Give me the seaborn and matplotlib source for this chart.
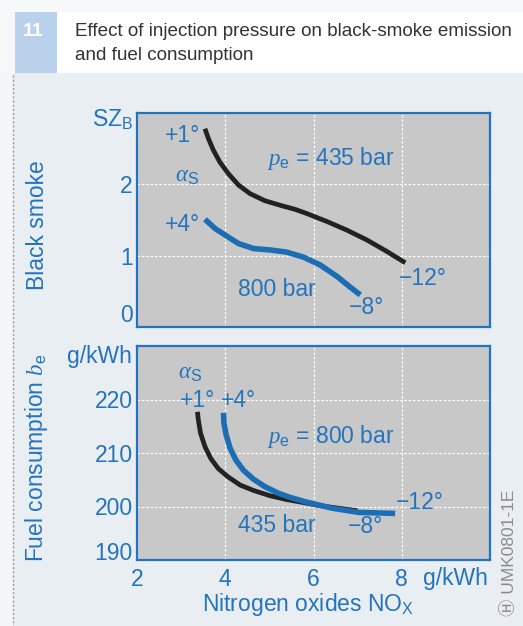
import matplotlib
matplotlib.use("Agg")
import matplotlib.pyplot as plt
import seaborn as sns
import pandas as pd
from matplotlib.patches import Rectangle
from matplotlib.lines import Line2D

# Black smoke vs NOx, injection timing swept from advance to retard
smoke_nox_435 = [3.54, 3.62, 3.73, 3.88, 4.07, 4.30, 4.56, 4.90, 5.28, 5.58, 5.85,
                 6.30, 6.75, 7.21, 7.66, 8.08]
smoke_435 = [2.78, 2.64, 2.48, 2.31, 2.15, 1.99, 1.87, 1.77, 1.70, 1.65, 1.59,
             1.48, 1.36, 1.22, 1.06, 0.90]
smoke_nox_800 = [3.54, 3.77, 4.07, 4.30, 4.64, 5.02, 5.39, 5.77, 6.15, 6.53, 6.83, 7.06]
smoke_800 = [1.51, 1.38, 1.26, 1.17, 1.10, 1.08, 1.05, 0.98, 0.87, 0.71, 0.56, 0.45]

# Fuel consumption vs NOx
fuel_nox_435 = [3.37, 3.39, 3.44, 3.54, 3.67, 3.84, 4.07, 4.34, 4.64, 5.02, 5.39,
                5.80, 6.11, 6.64, 7.00]
fuel_435 = [217.7, 216.2, 213.7, 211.2, 209.0, 207.1, 205.5, 204.0, 203.0, 202.0, 201.3,
            200.7, 200.2, 199.6, 199.2]
fuel_nox_800 = [3.96, 3.97, 4.02, 4.11, 4.24, 4.41, 4.64, 4.90, 5.20, 5.47, 5.81,
                6.41, 7.02, 7.85]
fuel_800 = [217.5, 215.6, 213.4, 210.9, 208.7, 206.8, 205.1, 203.7, 202.5, 201.7, 200.9,
            199.7, 198.9, 198.7]

x_ticks = [2, 4, 6, 8]
smoke_ticks = [0, 1, 2]
fuel_ticks = [190, 200, 210, 220]

BLUE = "#2474bd"
LINE_BLUE = "#1b6db4"
LINE_BLACK = "#222222"
FACE = "#c8c8c8"
BG = "#e9eef3"
FS = 16.5

sns.set_style("white")
plt.rcParams["font.family"] = ["Liberation Sans", "DejaVu Sans", "Noto Sans CJK JP"]
plt.rcParams["mathtext.fontset"] = "custom"
plt.rcParams["mathtext.rm"] = "Liberation Sans"
plt.rcParams["mathtext.it"] = "Liberation Serif:italic"
plt.rcParams["mathtext.sf"] = "Liberation Sans"

W, H = 523, 626
fig = plt.figure(figsize=(W / 100, H / 100), dpi=100, facecolor=BG)


def fbox(x0, y0, x1, y1, **kw):
    fig.patches.append(Rectangle((x0 / W, 1 - y1 / H), (x1 - x0) / W, (y1 - y0) / H,
                                 transform=fig.transFigure, **kw))


def ftext(x, y, s, **kw):
    kw.setdefault("color", BLUE)
    kw.setdefault("fontsize", FS)
    fig.text(x / W, 1 - y / H, s, **kw)


# header band
fbox(0, 0, W, 12, facecolor="#f6f8fa", edgecolor="none")
fbox(0, 12, 15, 73, facecolor="#f6f8fa", edgecolor="none")
fbox(15, 12, 57, 73, facecolor="#b9d1ea", edgecolor="none")
fbox(57, 12, W, 73, facecolor="white", edgecolor="none")
fbox(0, 73, 13, H, facecolor="#f3f5f7", edgecolor="none")
fig.lines.append(Line2D([13 / W, 13 / W], [1 - 75 / H, 0], transform=fig.transFigure,
                        color="#9a9a9a", lw=1, linestyle=(0, (1.5, 1.5))))
ftext(33, 31, "11", color="white", fontsize=14, fontweight="bold", ha="center", va="center")
ftext(75, 32, "Effect of injection pressure on black-smoke emission", color="#333333",
      fontsize=13.6, ha="left", va="center")
ftext(75, 56, "and fuel consumption", color="#333333", fontsize=13.6, ha="left", va="center")

ax1 = fig.add_axes([137 / W, 1 - 327 / H, 353 / W, 214 / H])
ax2 = fig.add_axes([137 / W, 1 - 560 / H, 353 / W, 214 / H])

df_smoke_435 = pd.DataFrame({"nox": smoke_nox_435, "val": smoke_435})
df_smoke_800 = pd.DataFrame({"nox": smoke_nox_800, "val": smoke_800})
df_fuel_435 = pd.DataFrame({"nox": fuel_nox_435, "val": fuel_435})
df_fuel_800 = pd.DataFrame({"nox": fuel_nox_800, "val": fuel_800})

line_kw = dict(sort=False, solid_capstyle="butt", solid_joinstyle="round")
sns.lineplot(data=df_smoke_435, x="nox", y="val", color=LINE_BLACK, lw=3.4, ax=ax1, **line_kw)
sns.lineplot(data=df_smoke_800, x="nox", y="val", color=LINE_BLUE, lw=4.0, ax=ax1, **line_kw)
sns.lineplot(data=df_fuel_435, x="nox", y="val", color=LINE_BLACK, lw=3.4, ax=ax2, **line_kw)
sns.lineplot(data=df_fuel_800, x="nox", y="val", color=LINE_BLUE, lw=4.0, ax=ax2, **line_kw)

for ax in (ax1, ax2):
    ax.set_facecolor(FACE)
    ax.set_xlim(2, 10)
    ax.set_xlabel("")
    ax.set_ylabel("")
    ax.set_axisbelow(True)
    ax.grid(True, color="white", lw=0.9, linestyle=(0, (2, 1.5)))
    for sp in ax.spines.values():
        sp.set_color(BLUE)
        sp.set_linewidth(1.6)
    ax.tick_params(length=0, labelsize=FS, labelcolor=BLUE, pad=3)

ax1.set_ylim(0, 3)
ax1.set_yticks(smoke_ticks)
ax1.set_yticklabels([str(t) for t in smoke_ticks])
ax1.set_xticks(x_ticks)
ax1.set_xticklabels([])

ax2.set_ylim(190, 230)
ax2.set_yticks(fuel_ticks)
ax2.set_yticklabels([str(t) for t in fuel_ticks])
ax2.set_xticks(x_ticks)
ax2.set_xticklabels([str(t) for t in x_ticks])
ax2.tick_params(axis="x", pad=6)

# lowest y labels sit just above the bottom spine
ax1.get_yticklabels()[0].set_va("bottom")
ax2.get_yticklabels()[0].set_va("baseline")

kw = dict(color=BLUE, fontsize=FS, ha="center", va="center")
# upper panel labels
ax1.text(3.02, 2.69, "+1°", **kw)
ax1.text(3.13, 2.13, r"$\alpha_\mathrm{S}$", **kw)
ax1.text(6.4, 2.36, r"$p_\mathrm{e}$ = 435 bar", **kw)
ax1.text(3.02, 1.43, "+4°", **kw)
ax1.text(5.18, 0.52, "800 bar", **kw)
ax1.text(8.47, 0.68, "−12°", **kw)
ax1.text(7.21, 0.27, "−8°", **kw)
# lower panel labels
ax2.text(3.2, 225.1, r"$\alpha_\mathrm{S}$", **kw)
ax2.text(3.36, 219.9, "+1°", **kw)
ax2.text(4.29, 219.9, "+4°", **kw)
ax2.text(6.38, 213.0, r"$p_\mathrm{e}$ = 800 bar", **kw)
ax2.text(8.42, 200.8, "−12°", **kw)
ax2.text(5.17, 196.5, "435 bar", **kw)
ax2.text(7.17, 196.2, "−8°", **kw)

# axis titles and units
ftext(133, 120, r"SZ$_\mathrm{B}$", ha="right", va="center")
ftext(38, 225, "Black smoke", rotation=90, ha="center", va="center")
ftext(37, 458, r"Fuel consumption $b_\mathrm{e}$", rotation=90, ha="center", va="center")
ftext(132, 357, "g/kWh", ha="right", va="center")
ftext(455, 578, "g/kWh", ha="center", va="center")
ftext(308, 605, r"Nitrogen oxides NO$_\mathrm{X}$", ha="center", va="center")
ftext(509, 553, "Ⓗ UMK0801-1E", rotation=90, ha="center", va="center",
      color="#8c8c8c", fontsize=12.5, family=["Liberation Sans", "Noto Sans CJK JP"])

fig.savefig("out.png", dpi=100, facecolor=BG)
